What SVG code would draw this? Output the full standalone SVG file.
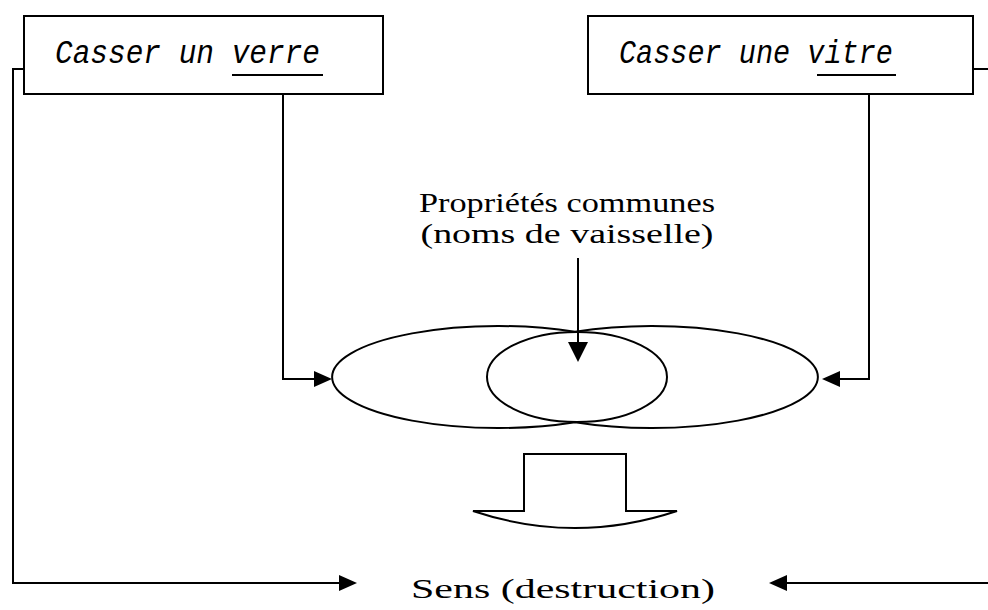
<svg xmlns="http://www.w3.org/2000/svg" width="988" height="610" viewBox="0 0 988 610">
<defs>
<style>
.ln{fill:none;stroke:#000;stroke-width:2}
.el{fill:none;stroke:#000;stroke-width:2}
.box{fill:#fff;stroke:#000;stroke-width:2}
.ah{fill:#000}
.it{font-family:"Liberation Mono","DejaVu Sans Mono",monospace;font-style:italic;font-size:33px;fill:#000}
.sf{font-family:"Liberation Serif","Times New Roman",serif;font-size:28px;fill:#000}
</style>
</defs>
<rect width="988" height="610" fill="#fff"/>
<g id="connectors">
<path class="ln" d="M24,69 H13 V583 H339"/>
<path class="ah" d="M339,575 L357,583 L339,591 Z"/>
<path class="ln" d="M988,583 H787"/>
<path class="ah" d="M787,575 L769,583 L787,591 Z"/>
<path class="ln" d="M283,75 V379 H314"/>
<path class="ah" d="M314,371 L332,379 L314,387 Z"/>
<path class="ln" d="M869,75 V379 H840"/>
<path class="ah" d="M840,371 L822,379 L840,387 Z"/>
<path class="ln" d="M578,258 V342"/>
<path class="ah" d="M568,342 L578,362 L588,342 Z"/>
<line class="ln" x1="973" y1="69" x2="988" y2="69"/>
</g>
<g id="node-ellipses">
<path class="el" d="M575,331.8 A166,51 0 1 0 575,422.2 A166,51 0 1 0 575,331.8 Z"/>
<ellipse class="el" cx="577" cy="377" rx="90" ry="45"/>
</g>
<g id="node-verre">
<rect class="box" x="24" y="16" width="359" height="78"/>
<text class="it" x="55" y="63" textLength="265" lengthAdjust="spacingAndGlyphs">Casser un verre</text>
<line class="ln" x1="232" y1="75" x2="323" y2="75"/>
</g>
<g id="node-vitre">
<rect class="box" x="588" y="16" width="385" height="78"/>
<text class="it" x="619" y="63" textLength="274" lengthAdjust="spacingAndGlyphs">Casser une vitre</text>
<line class="ln" x1="817" y1="75" x2="896" y2="75"/>
</g>
<g id="node-proprietes">
<text class="sf" x="567" y="212" text-anchor="middle" textLength="296" lengthAdjust="spacingAndGlyphs">Propriétés communes</text>
<text class="sf" x="567" y="243" text-anchor="middle" textLength="293" lengthAdjust="spacingAndGlyphs">(noms de vaisselle)</text>
</g>
<g id="node-block-arrow">
<path class="ln" d="M524,511 V454 H626 V511 H677 Q575,545 473,511 H524 Z"/>
</g>
<g id="node-sens">
<text class="sf" x="411" y="598" font-size="32" textLength="304" lengthAdjust="spacingAndGlyphs">Sens (destruction)</text>
</g>
</svg>
